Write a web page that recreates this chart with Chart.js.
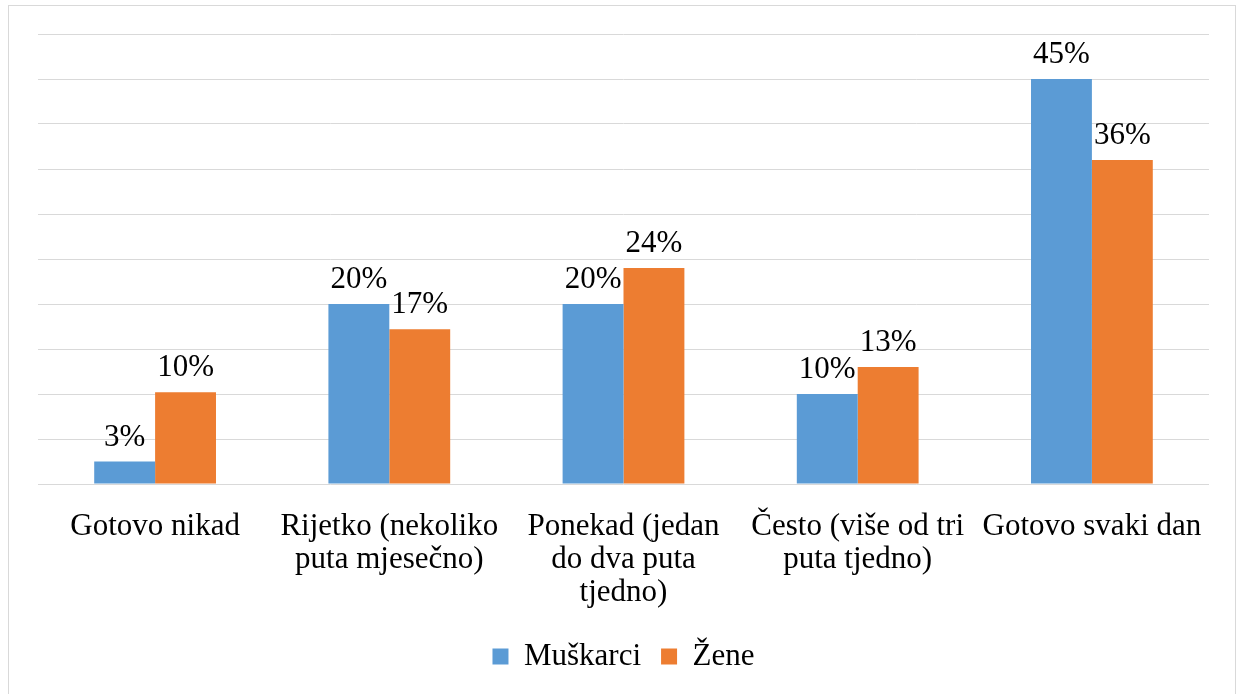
<!DOCTYPE html>
<html>
<head>
<meta charset="utf-8">
<script src="https://cdn.jsdelivr.net/npm/chart.js@4/dist/chart.umd.min.js"></script>
<style>
  html, body { margin: 0; padding: 0; background: #fff; }
  #wrap { position: relative; width: 1238px; height: 694px; }
  #frame { position: absolute; left: 8px; top: 5px; width: 1226px; height: 700px; border: 1px solid #d9d9d9; pointer-events: none; }
</style>
</head>
<body>
<div id="wrap">
  <canvas id="myChart" width="1238" height="694"></canvas>
  <div id="frame"></div>
</div>
<script>
const categories = [
  'Gotovo nikad',
  ['Rijetko (nekoliko', 'puta mjesečno)'],
  ['Ponekad (jedan', 'do dva puta', 'tjedno)'],
  ['Često (više od tri', 'puta tjedno)'],
  'Gotovo svaki dan'
];
const muskarci = [2.5, 20, 20, 10, 45];
const zene = [10.2, 17.2, 24, 13, 36];
const yTicks = { min: 0, max: 50, step: 5 };

const serif = "'Liberation Serif', 'Times New Roman', serif";

// value labels above each bar
const barLabels = {
  id: 'barLabels',
  afterDatasetsDraw(chart) {
    const ctx = chart.ctx;
    ctx.save();
    ctx.font = '31px ' + serif;
    ctx.fillStyle = '#000';
    ctx.textAlign = 'center';
    ctx.textBaseline = 'alphabetic';
    chart.data.datasets.forEach((ds, i) => {
      chart.getDatasetMeta(i).data.forEach((bar, j) => {
        ctx.fillText(Math.round(ds.data[j]) + '%', bar.x, bar.y - 16);
      });
    });
    ctx.restore();
  }
};

const ctx = document.getElementById('myChart').getContext('2d');
const chart = new Chart(ctx, {
  type: 'bar',
  data: {
    labels: categories,
    datasets: [
      { label: 'Muškarci', data: muskarci, backgroundColor: '#5B9BD5' },
      { label: 'Žene', data: zene, backgroundColor: '#ED7D31' }
    ]
  },
  options: {
    responsive: false,
    animation: false,
    events: [],
    layout: { padding: { top: 34, left: 38, right: 29, bottom: 12 } },
    datasets: { bar: { categoryPercentage: 0.52, barPercentage: 1 } },
    plugins: {
      legend: {
        position: 'bottom',
        labels: { font: { family: serif, size: 31 }, color: '#000', boxWidth: 16, boxHeight: 16, padding: 20 }
      },
      tooltip: { enabled: false }
    },
    scales: {
      x: {
        grid: { display: false, drawTicks: false },
        border: { display: false },
        ticks: { font: { family: serif, size: 31, lineHeight: 1.05 }, color: '#000', maxRotation: 0, autoSkip: false, padding: 27 },
        afterFit(s) { s.height = 137; }
      },
      y: {
        min: yTicks.min,
        max: yTicks.max,
        ticks: { display: false, stepSize: yTicks.step },
        grid: { color: '#d9d9d9', lineWidth: 1, drawTicks: false },
        border: { display: false },
        afterFit(s) { s.width = 0; }
      }
    }
  },
  plugins: [barLabels]
});
</script>
</body>
</html>
